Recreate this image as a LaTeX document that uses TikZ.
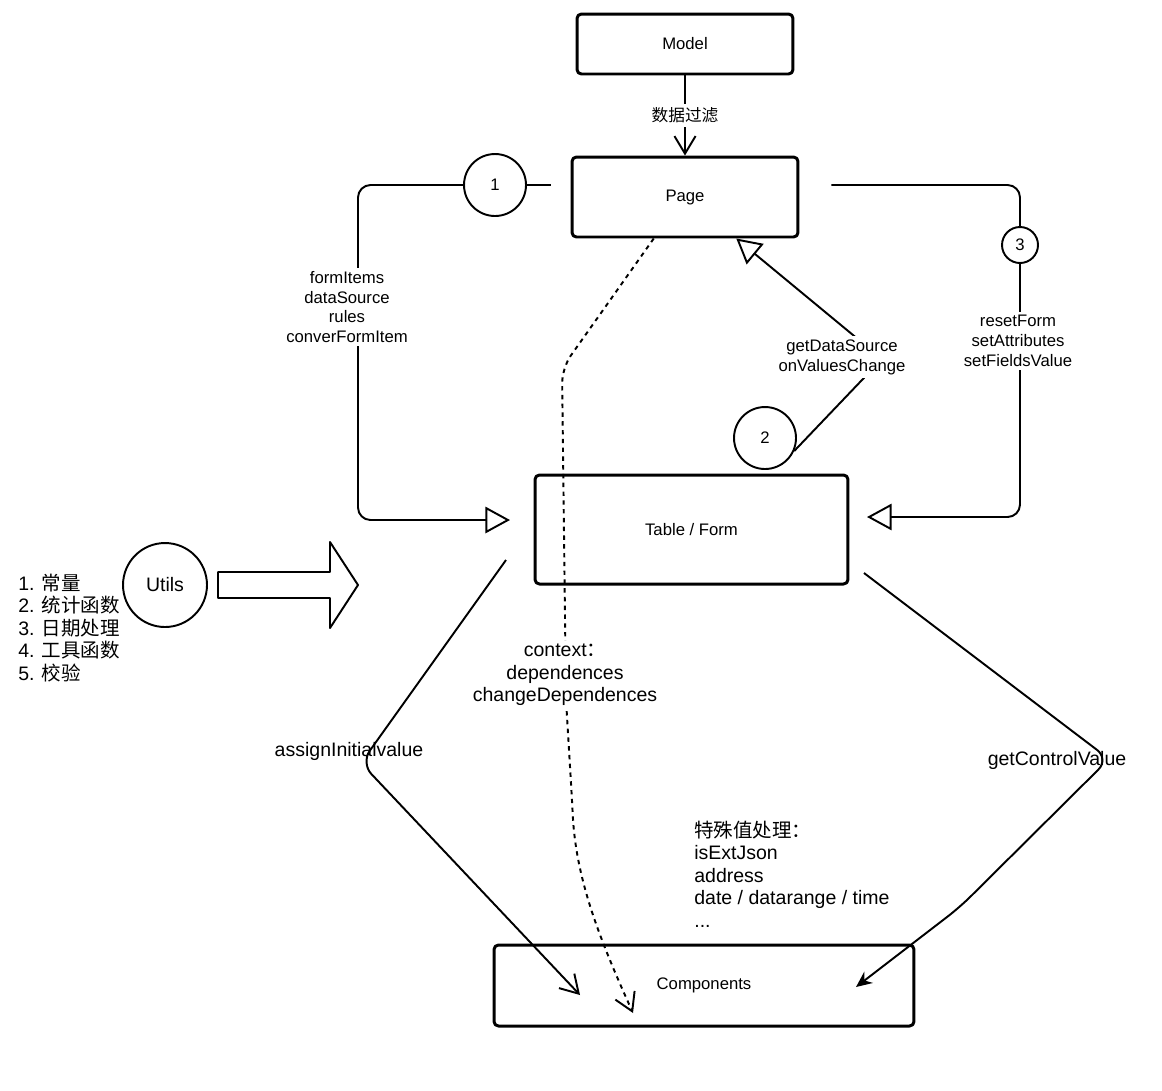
\documentclass[tikz,border=0pt]{standalone}
\usepackage{fontspec}
\setmainfont{Liberation Sans}
\newfontfamily\cjk{Noto Sans CJK SC}
\usetikzlibrary{arrows.meta}
\newcommand\fsm{\fontsize{9.5}{11.3}\selectfont}
\newcommand\fbg{\fontsize{11.1}{12.8}\selectfont}
\begin{document}
\begin{tikzpicture}[x=0.02cm, y=-0.02cm, line join=round,
	box/.style={draw, line width=1.7pt, rounded corners=2.5pt, font=\fsm},
	num/.style={draw, circle, line width=1.1pt, inner sep=0pt, font=\fsm},
	conn/.style={line width=1.1pt},
	lbl/.style={fill=white, align=center, inner sep=2pt, font=\fsm},
	txt/.style={align=left, inner sep=0pt, font=\fbg},
	opentri/.tip={Triangle[open, length=14pt, width=15pt]},
	vbarb/.tip={Straight Barb[length=10pt, width=12pt]}]
	\useasboundingbox (0,0) rectangle (1162,1090);
	\node[box, minimum width=4.32cm, minimum height=1.2cm] (model) at (685,44) {Model};
	\node[box, minimum width=4.52cm, minimum height=1.6cm] (page) at (685,197) {Page};
	\node[box, minimum width=6.26cm, minimum height=2.18cm] (tf) at (691.5,529.5) {Table / Form};
	\node[box, minimum width=8.4cm, minimum height=1.62cm] (comp) at (704,985.5) {Components};
	\node[num, minimum size=1.24cm] (c1) at (495,185) {1};
	\node[num, minimum size=1.24cm] (c2) at (765,438) {2};
	\node[num, minimum size=0.72cm] (c3) at (1020,245) {3};
	\node[num, minimum size=1.68cm, font=\fbg] (utils) at (165,585) {Utils};
	\coordinate (tfin1) at (510,520);
	\coordinate (tfin3) at (867,517);
	\coordinate (tfL) at (506,560);
	\coordinate (tfR) at (864,573);
	\coordinate (compL) at (580,995);
	\coordinate (compR) at (856,987);
	\coordinate (ctxend) at (633,1013);
	\draw[conn, -vbarb] (model) -- (page) node[lbl, midway] (filter) {\cjk 数据过滤};
	\draw[conn, shorten <=0.4cm] (page.west |- c1) -- (c1);
	\draw[conn, rounded corners=0.25cm, -opentri] (c1) -| (358,520) -- (tfin1);
	\draw[conn, shorten <=0.64cm, rounded corners=0.25cm] (page.east |- c1) -| (c3);
	\draw[conn, rounded corners=0.25cm, -opentri] (c3) |- (tfin3);
	\draw[conn, -opentri] (c2.-24) -- (882,359) -- (page.-39);
	\draw[conn, rounded corners=0.3cm, -vbarb] (tfL) -- (361,763) -- (compL);
	\draw[conn, rounded corners=0.3cm, -{Stealth[length=9pt, width=8pt]}] (tfR) -- (1109,759) -- (960,907) -- (compR);
	\draw[conn, dash pattern=on 2.5pt off 2.5pt, rounded corners=0.3cm, -vbarb] (page.233) -- (562,368) -- (566,700) -- (572,800) .. controls (576,880) and (600,940) .. (ctxend);
	\draw[line width=1.1pt] (218,572) -- (330,572) -- (330,542) -- (358,585) -- (330,628) -- (330,598) -- (218,598) -- cycle;
	\path
	(347,307) node[lbl] (props) {formItems\\dataSource\\rules\\converFormItem}
	(842,357) node[lbl] (events) {getDataSource\\onValuesChange}
	(1018,341) node[lbl] (methods) {resetForm\\setAttributes\\setFieldsValue}
	(565,675) node[lbl, font=\fbg] (ctx) {context{\cjk ：}\\dependences\\changeDependences}
	(349,751) node[font=\fbg] (assign) {assignInitialvalue}
	(1057,760) node[font=\fbg] (getval) {getControlValue};
	\node[txt, anchor=west] (tools) at (18,628) {1. {\cjk 常量}\\2. {\cjk 统计函数}\\3. {\cjk 日期处理}\\4. {\cjk 工具函数}\\5. {\cjk 校验}};
	\node[txt, anchor=west] (special) at (694,874) {{\cjk 特殊值处理：}\\isExtJson\\address\\date / datarange / time\\...};
\end{tikzpicture}
\end{document}
